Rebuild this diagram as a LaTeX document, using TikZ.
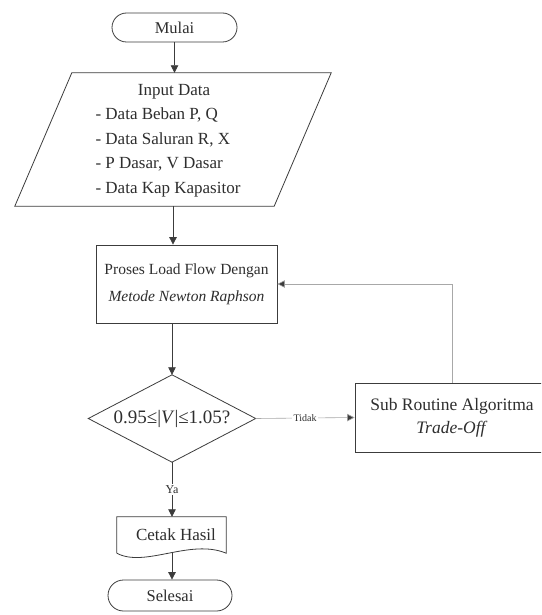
\documentclass[tikz,border=0pt]{standalone}
\usepackage{fontspec}
\setmainfont{Liberation Serif}
\usetikzlibrary{shapes.misc,arrows.meta,calc}
\definecolor{linec}{HTML}{3C3C3C}
\definecolor{txt}{HTML}{2E2E2E}
\definecolor{faint}{HTML}{A8A8A8}

\tikzset{
  flowline/.style={draw=linec, line width=0.8pt},
  arr/.style={flowline, -{Triangle[length=7.5pt,width=7.5pt]}},
  faintarr/.style={draw=faint, line width=0.6pt, -{Triangle[length=7.5pt,width=7.5pt,fill=linec]}},
  term/.style={rounded rectangle, draw=linec, line width=0.8pt, inner sep=0pt, text=txt,
    font=\fontsize{16.5}{20}\selectfont},
  procbox/.style={rectangle, draw=linec, line width=0.8pt, inner sep=0pt, align=center, text=txt},
  holder/.style={rectangle, inner sep=0pt, align=center, text=txt},
  lbl/.style={fill=white, inner sep=1.5pt, text=txt}
}

\begin{document}
\begin{tikzpicture}[x=1pt,y=-1pt]
  \useasboundingbox (0,0) rectangle (541,615);
  \fill[white] (0,0) rectangle (541,615);
  \clip (0,0) rectangle (541,615);

  % start
  \node[term, minimum width=125pt, minimum height=29pt] (mulai) at (174.5,27.5) {Mulai};

  % input data (parallelogram drawn around a plain holder)
  \node[holder, minimum width=202pt, minimum height=133pt,
        font=\fontsize{17}{24.5}\selectfont] (input) at (173,139.5)
    {\begin{tabular}{@{}l@{}}
       \multicolumn{1}{@{}c@{}}{\hspace{12pt}Input Data}\\
       - Data Beban P, Q\\
       - Data Saluran R, X\\
       - P Dasar, V Dasar\\
       - Data Kap Kapasitor
     \end{tabular}\hspace{10pt}};
  \draw[flowline] (input.north west) -- ($(input.north east)+(57,0)$)
    -- (input.south east) -- ($(input.south west)-(57,0)$) -- cycle;

  % load flow process
  \node[procbox, minimum width=181pt, minimum height=78pt,
        font=\fontsize{15.5}{27}\selectfont] (proses) at (186.5,284)
    {Proses Load Flow Dengan\\ \textit{Metode Newton Raphson}\hspace{6pt}};

  % decision
  \node[holder, minimum width=167pt, minimum height=87pt,
        font=\fontsize{19}{22}\selectfont] (dec) at (172,418.5)
    {0.95≤|\textit{V}|≤1.05?};
  \draw[flowline] (dec.north) -- (dec.east) -- (dec.south) -- (dec.west) -- cycle;

  % sub routine
  \node[procbox, minimum width=194pt, minimum height=69pt,
        font=\fontsize{17.5}{23}\selectfont] (sub) at (452,417.5)
    {Sub Routine Algoritma\\ \textit{Trade-Off}};

  % print result (document shape)
  \node[holder, minimum width=109pt, minimum height=36pt,
        font=\fontsize{17}{20}\selectfont] (cetak) at (171.5,535) {\hspace{9pt}Cetak Hasil};
  \draw[flowline] (cetak.south west) -- (cetak.north west) -- (cetak.north east)
    -- (cetak.south east)
    .. controls ($(cetak.south east)+(-36,-15)$) and ($(cetak.south west)+(28,15)$) .. (cetak.south west);

  % end
  \node[term, minimum width=124pt, minimum height=31pt] (selesai) at (170,595.5) {Selesai};

  % connectors
  \draw[arr] (mulai.south) -- (mulai.south |- input.north);
  \draw[arr] (input.south) -- (input.south |- proses.north);
  \draw[arr] (dec.north |- proses.south) -- (dec.north);
  \draw[faintarr] (dec.east) -- node[lbl, font=\fontsize{10}{12}\selectfont] {Tidak} (sub.west);
  \draw[faintarr] (sub.north) |- (proses.east);
  \draw[arr] (dec.south) -- node[lbl, font=\fontsize{12}{14}\selectfont] {Ya} (dec.south |- cetak.north);
  \draw[arr] (dec.south |- cetak.south) -- (dec.south |- selesai.north);
\end{tikzpicture}
\end{document}
